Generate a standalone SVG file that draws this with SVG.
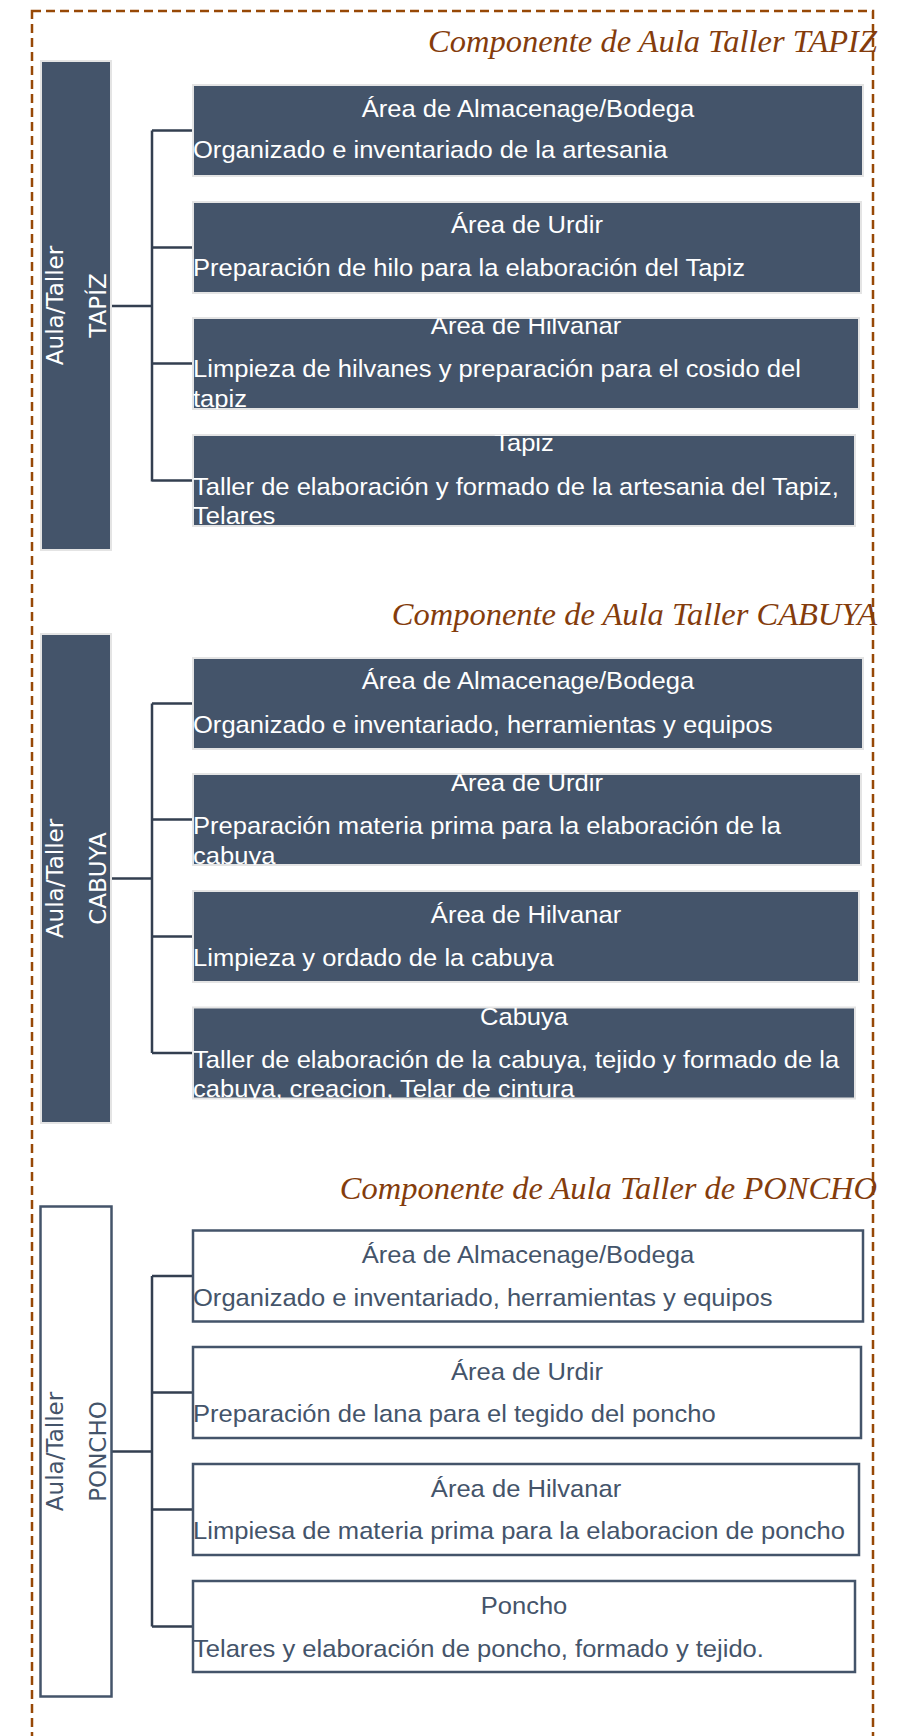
<svg xmlns="http://www.w3.org/2000/svg" width="903" height="1736" viewBox="0 0 903 1736">
<style>
.title{font-family:"Liberation Serif","Times New Roman",serif;font-style:italic;font-size:32.5px;fill:#843C0C;text-anchor:end}
.lbox{fill:#44546A;stroke:#E4E4E4;stroke-width:2}
.lbox2{fill:#FFFFFF;stroke:#44546A;stroke-width:2.5}
.box{fill:#44546A;stroke:#E4E4E4;stroke-width:2}
.box2{fill:#FFFFFF;stroke:#44546A;stroke-width:2.5}
.vt{font-family:"DejaVu Sans",Verdana,sans-serif;font-size:23px;fill:#FFFFFF;text-anchor:middle}
.vt2{font-family:"DejaVu Sans",Verdana,sans-serif;font-size:23px;fill:#44546A;text-anchor:middle}
.h{font-family:"Liberation Sans",Arial,sans-serif;font-size:24px;fill:#FFFFFF;text-anchor:middle}
.d{font-family:"Liberation Sans",Arial,sans-serif;font-size:24px;fill:#FFFFFF}
.h2{font-family:"Liberation Sans",Arial,sans-serif;font-size:24px;fill:#44546A;text-anchor:middle}
.d2{font-family:"Liberation Sans",Arial,sans-serif;font-size:24px;fill:#44546A}
.con{fill:none;stroke:#333F50;stroke-width:2.5}
.frame{fill:none;stroke:#974806;stroke-width:2.5;stroke-dasharray:9 5}
</style>
<defs>
<clipPath id="cA1"><rect x="193" y="85" width="670" height="91"/></clipPath>
<clipPath id="cA2"><rect x="193" y="202" width="668" height="91"/></clipPath>
<clipPath id="cA3"><rect x="193" y="318" width="666" height="91"/></clipPath>
<clipPath id="cA4"><rect x="193" y="435" width="662" height="91"/></clipPath>
<clipPath id="cB1"><rect x="193" y="658" width="670" height="91"/></clipPath>
<clipPath id="cB2"><rect x="193" y="774" width="668" height="91"/></clipPath>
<clipPath id="cB3"><rect x="193" y="891" width="666" height="91"/></clipPath>
<clipPath id="cB4"><rect x="193" y="1007.5" width="662" height="91"/></clipPath>
</defs>
<rect width="903" height="1736" fill="#FFFFFF"/>
<rect class="frame" x="32" y="11" width="841" height="1760"/>

<g id="titles">
<text class="title" x="877" y="52">Componente de Aula Taller TAPIZ</text>
<text class="title" x="877" y="625">Componente de Aula Taller CABUYA</text>
<text class="title" x="877" y="1199">Componente de Aula Taller de PONCHO</text>
</g>

<g id="connectors">
<path class="con" d="M111 306H152M152 130.5V481.5M152 130.5H193M152 247.5H193M152 363.5H193M152 480.5H193"/>
<path class="con" d="M111 878.5H152M152 703.5V1053M152 703.5H193M152 819.5H193M152 936.5H193M152 1053H193"/>
<path class="con" d="M112 1451.5H152M152 1276V1626.5M152 1276H193M152 1392.5H193M152 1509.5H193M152 1626.5H193"/>
</g>

<g id="tapiz">
<rect class="lbox" x="41" y="61" width="70" height="489"/>
<text class="vt" transform="translate(63 305.5) rotate(-90)">Aula/Taller</text>
<text class="vt" transform="translate(106 305.5) rotate(-90)">TAPÍZ</text>
</g>
<g id="tapiz-almacen">
<rect class="box" x="193" y="85" width="670" height="91"/>
<g clip-path="url(#cA1)">
<text class="h" transform="translate(528 117) scale(1.065 1)">Área de Almacenage/Bodega</text>
<text class="d" transform="translate(193 158) scale(1.065 1)">Organizado e inventariado de la artesania</text>
</g>
</g>
<g id="tapiz-urdir">
<rect class="box" x="193" y="202" width="668" height="91"/>
<g clip-path="url(#cA2)">
<text class="h" transform="translate(527 233) scale(1.065 1)">Área de Urdir</text>
<text class="d" transform="translate(193 276) scale(1.065 1)">Preparación de hilo para la elaboración del Tapiz</text>
</g>
</g>
<g id="tapiz-hilvanar">
<rect class="box" x="193" y="318" width="666" height="91"/>
<g clip-path="url(#cA3)">
<text class="h" transform="translate(526 334) scale(1.065 1)">Área de Hilvanar</text>
<text class="d" transform="translate(193 377) scale(1.065 1)">Limpieza de hilvanes  y preparación para el cosido del</text>
<text class="d" transform="translate(193 407) scale(1.065 1)">tapiz</text>
</g>
</g>
<g id="tapiz-taller">
<rect class="box" x="193" y="435" width="662" height="91"/>
<g clip-path="url(#cA4)">
<text class="h" transform="translate(524 451) scale(1.065 1)">Tapiz</text>
<text class="d" transform="translate(193 495) scale(1.065 1)">Taller de elaboración y formado de la artesania del Tapiz,</text>
<text class="d" transform="translate(193 524) scale(1.065 1)">Telares</text>
</g>
</g>

<g id="cabuya">
<rect class="lbox" x="41" y="634" width="70" height="489"/>
<text class="vt" transform="translate(63 878.5) rotate(-90)">Aula/Taller</text>
<text class="vt" transform="translate(106 878.5) rotate(-90)">CABUYA</text>
</g>
<g id="cabuya-almacen">
<rect class="box" x="193" y="658" width="670" height="91"/>
<g clip-path="url(#cB1)">
<text class="h" transform="translate(528 689) scale(1.065 1)">Área de Almacenage/Bodega</text>
<text class="d" transform="translate(193 733) scale(1.065 1)">Organizado e inventariado, herramientas y equipos</text>
</g>
</g>
<g id="cabuya-urdir">
<rect class="box" x="193" y="774" width="668" height="91"/>
<g clip-path="url(#cB2)">
<text class="h" transform="translate(527 790.5) scale(1.065 1)">Área de Urdir</text>
<text class="d" transform="translate(193 834) scale(1.065 1)">Preparación materia prima para la elaboración de la</text>
<text class="d" transform="translate(193 864) scale(1.065 1)">cabuya</text>
</g>
</g>
<g id="cabuya-hilvanar">
<rect class="box" x="193" y="891" width="666" height="91"/>
<g clip-path="url(#cB3)">
<text class="h" transform="translate(526 923) scale(1.065 1)">Área de Hilvanar</text>
<text class="d" transform="translate(193 966) scale(1.065 1)">Limpieza y ordado de la cabuya</text>
</g>
</g>
<g id="cabuya-taller">
<rect class="box" x="193" y="1007.5" width="662" height="91"/>
<g clip-path="url(#cB4)">
<text class="h" transform="translate(524 1024.5) scale(1.065 1)">Cabuya</text>
<text class="d" transform="translate(193 1067.5) scale(1.065 1)">Taller de elaboración de la cabuya, tejido y formado de la</text>
<text class="d" transform="translate(193 1097) scale(1.065 1)">cabuya, creacion, Telar de cintura</text>
</g>
</g>

<g id="poncho">
<rect class="lbox2" x="40.5" y="1206.5" width="71" height="490"/>
<text class="vt2" transform="translate(63 1451.5) rotate(-90)">Aula/Taller</text>
<text class="vt2" transform="translate(106 1451.5) rotate(-90)">PONCHO</text>
</g>
<g id="poncho-almacen">
<rect class="box2" x="193" y="1230.5" width="670" height="91"/>
<text class="h2" transform="translate(528 1262.5) scale(1.065 1)">Área de Almacenage/Bodega</text>
<text class="d2" transform="translate(193 1305.5) scale(1.065 1)">Organizado e inventariado, herramientas y equipos</text>
</g>
<g id="poncho-urdir">
<rect class="box2" x="193" y="1347" width="668" height="91"/>
<text class="h2" transform="translate(527 1379.5) scale(1.065 1)">Área de Urdir</text>
<text class="d2" transform="translate(193 1422) scale(1.065 1)">Preparación de lana para el tegido del poncho</text>
</g>
<g id="poncho-hilvanar">
<rect class="box2" x="193" y="1464" width="666" height="91"/>
<text class="h2" transform="translate(526 1496.5) scale(1.065 1)">Área de Hilvanar</text>
<text class="d2" transform="translate(193 1539) scale(1.065 1)">Limpiesa de materia prima para la elaboracion de poncho</text>
</g>
<g id="poncho-taller">
<rect class="box2" x="193" y="1581" width="662" height="91"/>
<text class="h2" transform="translate(524 1613.5) scale(1.065 1)">Poncho</text>
<text class="d2" transform="translate(193 1656.5) scale(1.065 1)">Telares y elaboración de poncho, formado y tejido.</text>
</g>
</svg>
